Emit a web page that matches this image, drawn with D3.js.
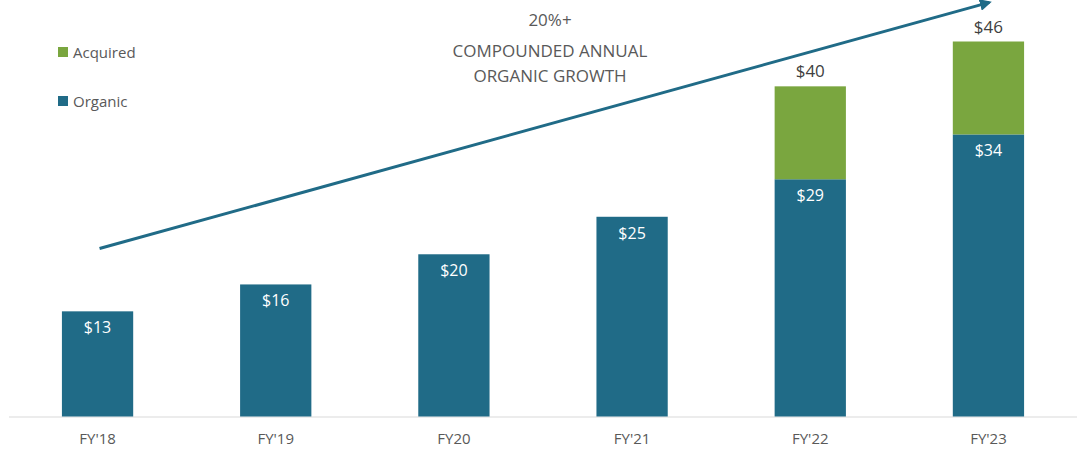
<!DOCTYPE html>
<html><head><meta charset="utf-8">
<script src="https://cdn.jsdelivr.net/npm/d3@7"></script>
<style>
html,body{margin:0;padding:0;background:#fff;}
svg{display:block;font-family:"Open Sans",Calibri,sans-serif;}
</style></head>
<body>
<svg id="chart" width="1078" height="454"></svg>
<script>
const categories = ["FY'18","FY'19","FY20","FY'21","FY'22","FY'23"];
const organic = [12.9, 16.2, 19.9, 24.5, 29.1, 34.6];
const acquired = [0, 0, 0, 0, 11.4, 11.4];
const organicLabels = ["$13","$16","$20","$25","$29","$34"];
const totalLabels = [null, null, null, null, "$40", "$46"];
const trendValues = [20.6, 50.8];
const annotationLines = ["20%+", "COMPOUNDED ANNUAL", "ORGANIC GROWTH"];
const legendItems = ["Acquired", "Organic"];

const colOrg = "#206b87", colAcq = "#7aa63f";
const svg = d3.select("#chart");
const W = 1078, H = 454;
const baseY = 416.5;
const x = d3.scaleBand().domain(categories).range([9, 1077]).paddingInner(0.6).paddingOuter(0.297);
const y = d3.scaleLinear().domain([0, 46]).range([baseY, baseY - 375]);

const data = categories.map((c,i)=>({c, o:organic[i], a:acquired[i], ol:organicLabels[i], tl:totalLabels[i]}));

// axis line
svg.append("line").attr("x1",9).attr("x2",1077).attr("y1",baseY+0.5).attr("y2",baseY+0.5)
  .attr("stroke","#d9d9d9").attr("stroke-width",1);

// bars
svg.selectAll("rect.org").data(data).enter().append("rect").attr("class","org")
  .attr("x",d=>x(d.c)).attr("width",x.bandwidth())
  .attr("y",d=>y(d.o)).attr("height",d=>y(0)-y(d.o)).attr("fill",colOrg);
svg.selectAll("rect.acq").data(data.filter(d=>d.a>0)).enter().append("rect").attr("class","acq")
  .attr("x",d=>x(d.c)).attr("width",x.bandwidth())
  .attr("y",d=>y(d.o+d.a)).attr("height",d=>y(d.o)-y(d.o+d.a)).attr("fill",colAcq);

// inner labels
svg.selectAll("text.ol").data(data).enter().append("text").attr("class","ol")
  .attr("x",d=>x(d.c)+x.bandwidth()/2).attr("y",d=>y(d.o)+22)
  .attr("text-anchor","middle").attr("fill","#fff").attr("font-size",16).text(d=>d.ol);
// total labels
svg.selectAll("text.tl").data(data.filter(d=>d.tl)).enter().append("text").attr("class","tl")
  .attr("x",d=>x(d.c)+x.bandwidth()/2).attr("y",d=>y(d.o+d.a)-9)
  .attr("text-anchor","middle").attr("fill","#404040").attr("font-size",17).text(d=>d.tl);

// x labels
const xAxis = d3.axisBottom(x).tickSize(0).tickPadding(0);
const gx = svg.append("g").attr("transform",`translate(0,${baseY})`).call(xAxis);
gx.select(".domain").remove();
gx.selectAll("text").attr("dy",null).attr("y",27).attr("font-size",15).attr("fill","#595959")
  .attr("font-family","'Open Sans',Calibri,sans-serif");

// trend arrow
const defs = svg.append("defs");
defs.append("marker").attr("id","arr").attr("viewBox","0 0 10 10").attr("refX",8).attr("refY",5)
  .attr("markerWidth",4).attr("markerHeight",4).attr("orient","auto")
  .append("path").attr("d","M0,0 L10,5 L0,10 z").attr("fill",colOrg);
const cx0 = x(categories[0]) + x.bandwidth()/2 + 2;
const cx1 = x(categories[5]) + x.bandwidth()/2 + 1;
svg.append("line").attr("x1",cx0).attr("y1",y(trendValues[0]))
  .attr("x2",cx1).attr("y2",y(trendValues[1]))
  .attr("stroke",colOrg).attr("stroke-width",3).attr("marker-end","url(#arr)");

// annotation
const annY = [26, 57, 82];
svg.selectAll("text.ann").data(annotationLines).enter().append("text").attr("class","ann")
  .attr("x",550).attr("y",(d,i)=>annY[i]).attr("text-anchor","middle")
  .attr("font-size",17).attr("fill","#595959").text(d=>d);

// legend
const lg = svg.selectAll("g.lg").data(legendItems).enter().append("g").attr("class","lg")
  .attr("transform",(d,i)=>`translate(58,${47+i*49})`);
lg.append("rect").attr("width",10).attr("height",10).attr("fill",(d,i)=>i===0?colAcq:colOrg);
lg.append("text").attr("x",15).attr("y",11).attr("font-size",15).attr("fill","#595959").text(d=>d);
</script>
</body></html>
